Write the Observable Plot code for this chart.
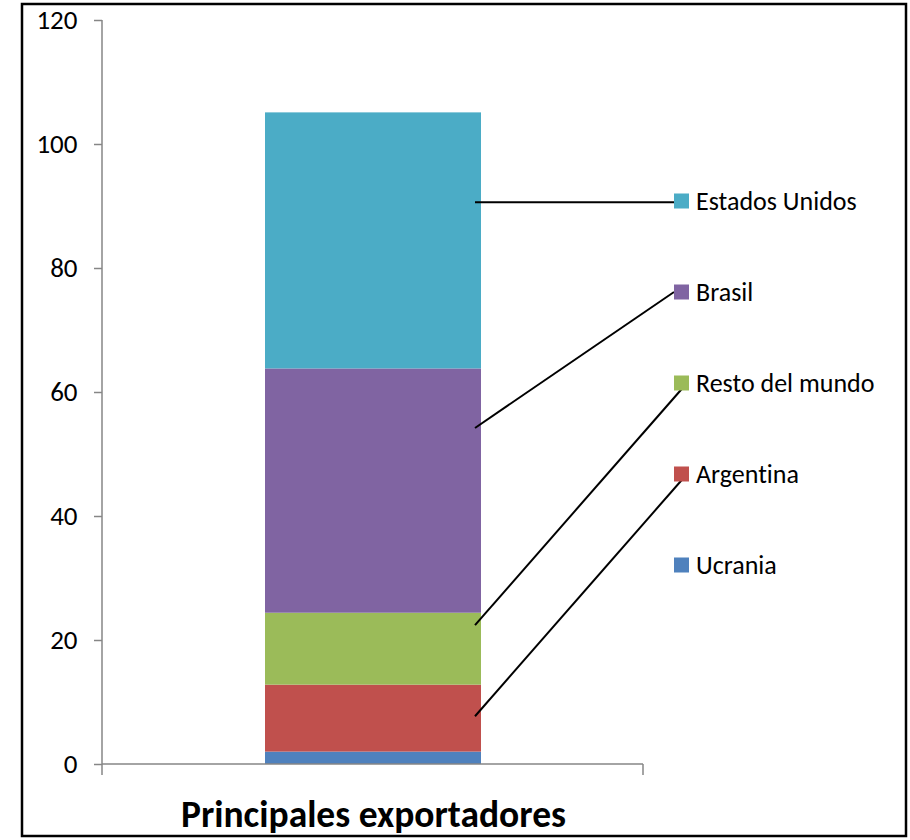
<!DOCTYPE html>
<html>
<head>
<meta charset="utf-8">
<script src="https://cdn.jsdelivr.net/npm/d3@7"></script>
<script src="https://cdn.jsdelivr.net/npm/@observablehq/plot@0.6"></script>
<style>
  html, body { margin: 0; padding: 0; background: #fff; }
  #chart { position: relative; width: 910px; height: 840px; }
  #chart svg text { font-variant-ligatures: none; font-feature-settings: "liga" 0, "clig" 0; }
</style>
</head>
<body>
<div id="chart"></div>
<script>
// ---- data ----
const category = "Principales exportadores";
const series = ["Ucrania", "Argentina", "Resto del mundo", "Brasil", "Estados Unidos"]; // bottom -> top
const values = [2.0, 10.8, 11.6, 39.4, 41.3];
const colors = ["#4F81BD", "#C0504D", "#9BBB59", "#8064A2", "#4BACC6"];
const yTicks = [0, 20, 40, 60, 80, 100, 120];
// value on the y axis where each series' leader line meets the bar
const leaderAnchor = {"Argentina": 7.7, "Resto del mundo": 22.4, "Brasil": 54.2, "Estados Unidos": 90.6};
const legendOrder = ["Estados Unidos", "Brasil", "Resto del mundo", "Argentina", "Ucrania"];

const rows = series.map((s, i) => ({category, series: s, value: values[i]}));
const FONT = "Carlito, Calibri, Lato, sans-serif";

const W = 910, H = 840;
const mL = 102, mR = 267, mT = 20, mB = 76;

const chart = Plot.plot({
  width: W,
  height: H,
  marginLeft: mL,
  marginRight: mR,
  marginTop: mT,
  marginBottom: mB,
  style: {fontFamily: FONT, color: "#000", background: "#fff", overflow: "visible"},
  x: {domain: [category], paddingInner: 0, paddingOuter: 0.75},
  y: {domain: [0, 120]},
  color: {domain: series, range: colors},
  marks: [
    Plot.barY(rows, {x: "category", y: "value", fill: "series", inset: 0}),
    Plot.axisY({ticks: yTicks, tickSize: 8, tickPadding: 17, fontSize: 27, label: null, stroke: "#868686", strokeWidth: 1.5}),
    Plot.axisX({tickSize: 0, tickPadding: 36, fontSize: 37.5, fontWeight: "bold", label: null})
  ]
});

document.getElementById("chart").appendChild(chart);

const svg = d3.select(chart);
const xr = chart.scale("x").range;
const y = chart.scale("y");
const x0 = xr[0], x1 = xr[1];
const y0 = y.apply(0), yTop = y.apply(120);

// axis lines
const g = svg.append("g").attr("stroke", "#868686").attr("stroke-width", 1.5).attr("fill", "none");
g.append("line").attr("x1", x0).attr("x2", x0).attr("y1", yTop).attr("y2", y0 + 11);
g.append("line").attr("x1", x0).attr("x2", x1).attr("y1", y0).attr("y2", y0);
g.append("line").attr("x1", x1).attr("x2", x1).attr("y1", y0).attr("y2", y0 + 11);

// legend + leader lines
const legendX = 674, legendY0 = 201, legendStep = 91, sq = 15;
const band = chart.scale("x");
const barRight = band.apply(category) + band.bandwidth - 6;
const lg = svg.append("g");
legendOrder.forEach((s, i) => {
  const cy = legendY0 + i * legendStep;
  const col = colors[series.indexOf(s)];
  if (leaderAnchor[s] !== undefined) {
    const ay = y.apply(leaderAnchor[s]);
    const horizontal = Math.abs(ay - cy) < 3;
    const ex = horizontal || i === 1 ? legendX : legendX + sq - 2;
    lg.append("line")
      .attr("x1", barRight).attr("y1", ay)
      .attr("x2", ex).attr("y2", horizontal ? ay : cy)
      .attr("stroke", "#000").attr("stroke-width", 2);
  }
  lg.append("rect").attr("x", legendX).attr("y", cy - sq / 2).attr("width", sq).attr("height", sq).attr("fill", col);
  lg.append("text").attr("x", legendX + sq + 7).attr("y", cy).attr("dy", "0.35em")
    .attr("text-anchor", "start")
    .attr("font-size", 26).attr("font-family", FONT).attr("fill", "#000").text(s);
});

// outer frame
svg.append("rect").attr("x", 22).attr("y", 4).attr("width", 884).attr("height", 832)
  .attr("fill", "none").attr("stroke", "#000").attr("stroke-width", 2.5);
</script>
</body>
</html>
